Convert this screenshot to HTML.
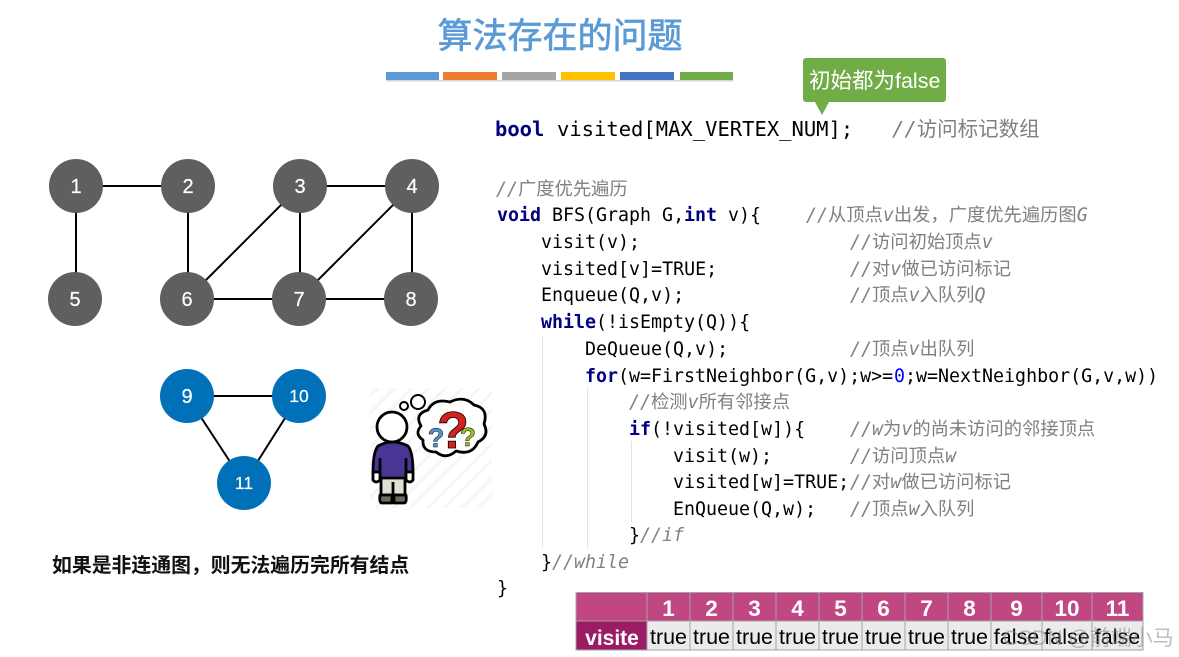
<!DOCTYPE html>
<html><head><meta charset="utf-8">
<style>
html,body{margin:0;padding:0;background:#fff;width:1179px;height:657px;overflow:hidden}
svg{display:block}
.c{font-family:"DejaVu Sans Mono","Noto Sans CJK SC",monospace;font-size:18.3px;fill:#000;white-space:pre}
.k{fill:#000080;font-weight:bold}
.g{fill:#808080}
.i{font-style:italic}
.n{font-family:"Liberation Sans",sans-serif;font-size:20px;fill:#fff;text-anchor:middle;stroke:#fff;stroke-width:.2}
.h{font-family:"Liberation Sans",sans-serif;font-size:22.5px;font-weight:bold;fill:#fff;text-anchor:middle}
.t{font-family:"Liberation Sans",sans-serif;font-size:21.5px;fill:#000;text-anchor:middle}
</style></head><body>
<svg width="1179" height="657" viewBox="0 0 1179 657" xmlns="http://www.w3.org/2000/svg">
<defs>
<pattern id="hatch" width="12" height="12" patternUnits="userSpaceOnUse" patternTransform="rotate(-45)"><rect width="12" height="12" fill="#fff"/><rect width="12" height="3" fill="#f5f5f5"/></pattern>
</defs>
<rect width="1179" height="657" fill="#fff"/>

<text x="560" y="48" text-anchor="middle" font-family="'Liberation Sans','Noto Sans CJK SC',sans-serif" font-size="35" font-weight="400" fill="#5b9bd5" stroke="#5b9bd5" stroke-width=".7">算法存在的问题</text>

<g>
<rect x="386" y="72" width="53" height="8" fill="#5b9bd5"/>
<rect x="443" y="72" width="54" height="8" fill="#ed7d31"/>
<rect x="502" y="72" width="54" height="8" fill="#a5a5a5"/>
<rect x="561" y="72" width="54" height="8" fill="#ffc000"/>
<rect x="620" y="72" width="54" height="8" fill="#4472c4"/>
<rect x="680" y="72" width="53" height="8" fill="#70ad47"/>
<rect x="386" y="80" width="347" height="1.5" fill="#d5d5d5"/>
</g>

<path d="M806 58H943a3 3 0 0 1 3 3V99a3 3 0 0 1-3 3H829L822 115L815 102H806a3 3 0 0 1-3-3V61a3 3 0 0 1 3-3Z" fill="#70ad47"/>
<text x="809" y="88" font-family="'Liberation Sans','Noto Sans CJK SC',sans-serif" font-size="21.5" fill="#fff">初始都为false</text>

<g stroke="#000" stroke-width="2" fill="none">
<line x1="76" y1="186" x2="188" y2="186"/>
<line x1="76" y1="186" x2="76" y2="299"/>
<line x1="188" y1="186" x2="188" y2="299"/>
<line x1="300" y1="186" x2="412" y2="186"/>
<line x1="300" y1="186" x2="187" y2="299"/>
<line x1="300" y1="186" x2="300" y2="299"/>
<line x1="412" y1="186" x2="299" y2="299"/>
<line x1="412" y1="186" x2="412" y2="299"/>
<line x1="187" y1="299" x2="411" y2="299"/>
<line x1="187" y1="396" x2="299" y2="396"/>
<line x1="187" y1="396" x2="244" y2="483"/>
<line x1="299" y1="396" x2="244" y2="483"/>
</g>
<g fill="#5f5f5f">
<circle cx="76" cy="186" r="27"/><circle cx="188" cy="186" r="27"/><circle cx="300" cy="186" r="27"/><circle cx="412" cy="186" r="27"/>
<circle cx="75" cy="299" r="27"/><circle cx="187" cy="299" r="27"/><circle cx="299" cy="299" r="27"/><circle cx="411" cy="299" r="27"/>
</g>
<g fill="#0071b8">
<circle cx="187" cy="396" r="27"/><circle cx="299" cy="396" r="27"/><circle cx="244" cy="483" r="27"/>
</g>
<text class="n" x="76" y="193">1</text><text class="n" x="188" y="193">2</text><text class="n" x="300" y="193">3</text><text class="n" x="412" y="193">4</text>
<text class="n" x="75" y="306">5</text><text class="n" x="187" y="306">6</text><text class="n" x="299" y="306">7</text><text class="n" x="411" y="306">8</text>
<text class="n" x="187" y="403">9</text><text class="n" x="299" y="402" style="font-size:17.5px">10</text><text class="n" x="244" y="489" style="font-size:17.5px">11</text>

<rect x="370" y="388" width="122" height="120" fill="url(#hatch)"/>
<g stroke="#000" stroke-width="2.8" stroke-linejoin="round">
<path d="M381 476V495H405V476Z" fill="#dfdfd2"/>
<path d="M393 482V495" fill="none"/>
<path d="M380 495H392V503H382Q379 503 380 495ZM394 495H406Q407 503 404 503H394Z" fill="#6b6b5e"/>
<path d="M378 446Q393 438 408 446Q413 452 413 472V474H406V478H380V474H373V472Q373 452 378 446Z" fill="#4a3594"/>
<path d="M373 472H380V480Q376 484 373 480ZM406 472H413V480Q410 484 406 480Z" fill="#fff"/>
<path d="M380 458V473M406 458V473" fill="none"/>
<circle cx="392" cy="427" r="15" fill="#fff"/>
<circle cx="404" cy="406" r="4" fill="#fff" stroke-width="2"/>
<circle cx="418" cy="402" r="7" fill="#fff" stroke-width="2"/>
<path d="M421 426Q414 414 428 410Q434 398 450 402Q464 395 474 405Q489 408 484 424Q490 436 478 442Q472 456 456 451Q446 460 436 452Q422 452 423 440Q414 434 421 426Z" fill="#fff"/>
</g>
<text x="453" y="448" font-family="'Liberation Sans',sans-serif" font-size="52" font-weight="bold" fill="#d62020" text-anchor="middle" stroke="#000" stroke-width=".8">?</text>
<text x="436" y="447" font-family="'Liberation Sans',sans-serif" font-size="27" font-weight="bold" fill="#4c95d8" text-anchor="middle" stroke="#000" stroke-width=".5">?</text>
<text x="468" y="446" font-family="'Liberation Sans',sans-serif" font-size="26" font-weight="bold" fill="#9bbf1e" text-anchor="middle" stroke="#000" stroke-width=".5">?</text>

<text x="52" y="572" font-family="'Liberation Sans','Noto Sans CJK SC',sans-serif" font-size="19.85" font-weight="700" fill="#111">如果是非连通图，则无法遍历完所有结点</text>

<g stroke="#e4e4e4" stroke-width="1">
<line x1="542.5" y1="335" x2="542.5" y2="548"/>
<line x1="587.5" y1="388" x2="587.5" y2="548"/>
<line x1="631.5" y1="441" x2="631.5" y2="522"/>
</g>

<text class="c" y="136" style="font-size:20.5px"><tspan class="k" x="495">bool</tspan><tspan x="557">visited[MAX_VERTEX_NUM];</tspan><tspan class="g i" x="892">//</tspan><tspan class="g">访问标记数组</tspan></text>
<text class="c g" y="195"><tspan class="i" x="496">//</tspan>广度优先遍历</text>
<text class="c" y="221"><tspan class="k" x="497">void</tspan><tspan x="552">BFS(Graph G,</tspan><tspan class="k" x="684">int</tspan><tspan x="728">v){</tspan><tspan class="g i" x="806">//</tspan><tspan class="g">从顶点</tspan><tspan class="g i">v</tspan><tspan class="g">出发，广度优先遍历图</tspan><tspan class="g i">G</tspan></text>
<text class="c" y="248"><tspan x="541">visit(v);</tspan><tspan class="g i" x="850">//</tspan><tspan class="g">访问初始顶点</tspan><tspan class="g i">v</tspan></text>
<text class="c" y="275"><tspan x="541">visited[v]=TRUE;</tspan><tspan class="g i" x="850">//</tspan><tspan class="g">对</tspan><tspan class="g i">v</tspan><tspan class="g">做已访问标记</tspan></text>
<text class="c" y="301"><tspan x="541">Enqueue(Q,v);</tspan><tspan class="g i" x="850">//</tspan><tspan class="g">顶点</tspan><tspan class="g i">v</tspan><tspan class="g">入队列</tspan><tspan class="g i">Q</tspan></text>
<text class="c" y="328"><tspan class="k" x="541">while</tspan><tspan x="596">(!isEmpty(Q)){</tspan></text>
<text class="c" y="355"><tspan x="585">DeQueue(Q,v);</tspan><tspan class="g i" x="850">//</tspan><tspan class="g">顶点</tspan><tspan class="g i">v</tspan><tspan class="g">出队列</tspan></text>
<text class="c" y="382"><tspan class="k" x="585">for</tspan><tspan x="618">(w=FirstNeighbor(G,v);w&gt;=</tspan><tspan x="894" fill="#0000ff">0</tspan><tspan x="905">;w=NextNeighbor(G,v,w))</tspan></text>
<text class="c g" y="408"><tspan class="i" x="629">//</tspan>检测<tspan class="i">v</tspan>所有邻接点</text>
<text class="c" y="435"><tspan class="k" x="629">if</tspan><tspan x="651">(!visited[w]){</tspan><tspan class="g i" x="850">//w</tspan><tspan class="g">为</tspan><tspan class="g i">v</tspan><tspan class="g">的尚未访问的邻接顶点</tspan></text>
<text class="c" y="462"><tspan x="673">visit(w);</tspan><tspan class="g i" x="850">//</tspan><tspan class="g">访问顶点</tspan><tspan class="g i">w</tspan></text>
<text class="c" y="488"><tspan x="673">visited[w]=TRUE;</tspan><tspan class="g i" x="850">//</tspan><tspan class="g">对</tspan><tspan class="g i">w</tspan><tspan class="g">做已访问标记</tspan></text>
<text class="c" y="515"><tspan x="673">EnQueue(Q,w);</tspan><tspan class="g i" x="850">//</tspan><tspan class="g">顶点</tspan><tspan class="g i">w</tspan><tspan class="g">入队列</tspan></text>
<text class="c" y="541"><tspan x="629">}</tspan><tspan class="g i" x="640">//if</tspan></text>
<text class="c" y="568"><tspan x="541">}</tspan><tspan class="g i" x="552">//while</tspan></text>
<text class="c" x="497" y="594">}</text>

<rect x="576" y="592" width="567" height="29" fill="#c04782"/>
<rect x="576" y="621" width="71" height="29" fill="#9b1c64"/>
<rect x="647" y="621" width="496" height="29" fill="#ebebeb"/>
<g stroke="#a5a5a5" stroke-width="1" fill="none">
<rect x="576" y="592.5" width="567" height="57.5"/>
<line x1="576" y1="621" x2="1143" y2="621"/>
<line x1="647" y1="592" x2="647" y2="650"/><line x1="690" y1="592" x2="690" y2="650"/><line x1="733" y1="592" x2="733" y2="650"/><line x1="776" y1="592" x2="776" y2="650"/><line x1="819" y1="592" x2="819" y2="650"/><line x1="862" y1="592" x2="862" y2="650"/><line x1="905" y1="592" x2="905" y2="650"/><line x1="948" y1="592" x2="948" y2="650"/><line x1="991" y1="592" x2="991" y2="650"/><line x1="1042" y1="592" x2="1042" y2="650"/><line x1="1092" y1="592" x2="1092" y2="650"/>
</g>
<text class="h" x="668.5" y="616">1</text><text class="h" x="711.5" y="616">2</text><text class="h" x="754.5" y="616">3</text><text class="h" x="797.5" y="616">4</text><text class="h" x="840.5" y="616">5</text><text class="h" x="883.5" y="616">6</text><text class="h" x="926.5" y="616">7</text><text class="h" x="969.5" y="616">8</text><text class="h" x="1016.5" y="616">9</text><text class="h" x="1067" y="616">10</text><text class="h" x="1117.5" y="616">11</text>
<text class="h" x="612" y="645" style="font-size:21px">visite</text>
<text class="t" x="668.5" y="644">true</text><text class="t" x="711.5" y="644">true</text><text class="t" x="754.5" y="644">true</text><text class="t" x="797.5" y="644">true</text><text class="t" x="840.5" y="644">true</text><text class="t" x="883.5" y="644">true</text><text class="t" x="926.5" y="644">true</text><text class="t" x="969.5" y="644">true</text><text class="t" x="1016.5" y="644">false</text><text class="t" x="1067" y="644">false</text><text class="t" x="1117.5" y="644">false</text>

<text x="1003" y="645" font-family="'Liberation Sans','Noto Sans CJK SC',sans-serif" font-size="21" fill="#888" fill-opacity=".55">CSDN @前端小马</text>
</svg>
</body></html>
